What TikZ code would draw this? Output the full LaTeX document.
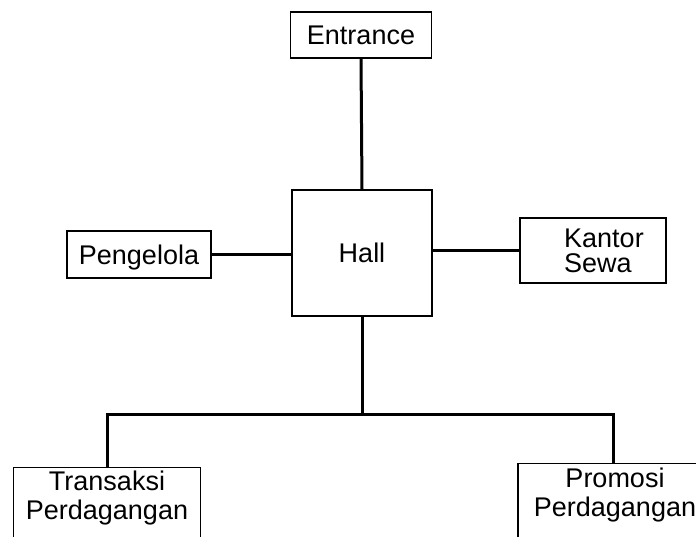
\documentclass[tikz,border=0pt]{standalone}
\usepackage{fontspec}
\setmainfont{Liberation Sans}
\begin{document}
\begin{tikzpicture}[x=1pt,y=-1pt,
  box/.style={draw, line width=1.2pt, inner sep=0pt, font=\fontsize{27}{29}\selectfont, text height=19.3pt, text depth=0pt},
  txt/.style={inner sep=0pt, align=center, font=\fontsize{27}{29}\selectfont},
  conn/.style={line width=3pt}]
\useasboundingbox (0,0) rectangle (696,537);
\clip (0,0) rectangle (696,537);
\node[box, minimum width=141pt, minimum height=46pt] (entrance) at (361,35) {Entrance};
\node[box, minimum width=140pt, minimum height=126pt] (hall) at (362,253) {Hall};
\node[box, minimum width=144pt, minimum height=47pt] (peng) at (139,254.5) {Pengelola};
\node[box, minimum width=146pt, minimum height=65pt] (kantor) at (593,250.5) {};
\node[txt, align=left, anchor=west, font=\fontsize{27}{25}\selectfont] (kantortxt) at (564,251) {Kantor\\Sewa};
\node[box, minimum width=187pt, minimum height=110pt, anchor=north] (trans) at (107,467) {};
\node[txt, anchor=north] (transtxt) at (107,471) {Transaksi\\Perdagangan};
\node[box, minimum width=190pt, minimum height=110pt, anchor=north] (promo) at (613,463) {};
\node[txt, anchor=north] (promotxt) at (615,468) {Promosi\\Perdagangan};
\coordinate (j) at (362,414);
\draw[conn] (entrance.south) -- (hall.north);
\draw[conn] (peng.east) -- (hall.west |- peng.east);
\draw[conn] (hall.east |- kantor.west) -- (kantor.west);
\draw[conn] (hall.south) -- (j);
\draw[conn] (trans.north) |- (j) -| (promo.north);
\end{tikzpicture}
\end{document}
